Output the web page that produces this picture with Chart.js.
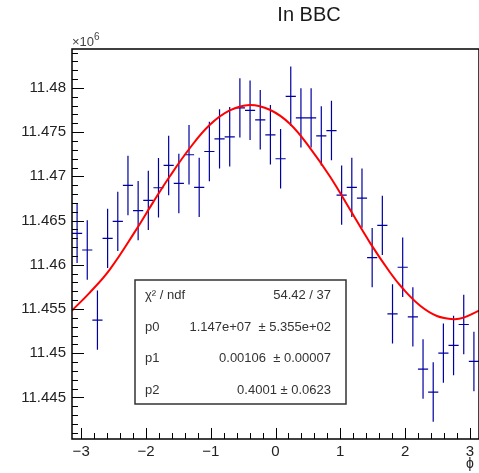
<!DOCTYPE html>
<html>
<head>
<meta charset="utf-8">
<title>In BBC</title>
<script src="https://cdn.jsdelivr.net/npm/chart.js@4/dist/chart.umd.min.js"></script>
<style>
    body { margin: 0; background: #fff; }
    #wrap { width: 479px; height: 473px; }
</style>
</head>
<body>
<div id="wrap"><canvas id="phiChart" width="479" height="473"></canvas></div>
<script>
// histogram binning in phi
const phiMin = -Math.PI;
const phiMax = Math.PI;
const nBins = 40;

// bin contents, in units of 10^6
const counts = [
    11.46356, 11.46167, 11.45374, 11.46299, 11.46491, 11.46897, 11.46612, 11.46728, 11.46871, 11.47123,
    11.46920, 11.47244, 11.46875, 11.47281, 11.47424, 11.47447, 11.47774, 11.47747, 11.47639, 11.47470,
    11.47199, 11.47905, 11.47661, 11.47661, 11.47458, 11.47518, 11.46788, 11.46875, 11.46754, 11.46081,
    11.46446, 11.45445, 11.45972, 11.45411, 11.44821, 11.44561, 11.45001, 11.45088, 11.45325, 11.44907
];
const countErr = 0.00336;

// fit curve
const fitPhi = [-3.1416, -2.875, -2.565, -2.152, -1.895, -1.636, -1.327, -1.017, -0.707, -0.398, -0.088,
    0.221, 0.531, 0.841, 1.150, 1.460, 1.769, 1.975, 2.234, 2.492, 2.749, 2.904, 3.1416];
const fitVal = [11.45483, 11.45680, 11.45940, 11.46395, 11.46700, 11.46995, 11.47315, 11.47580, 11.47745, 11.47808, 11.47753,
    11.47595, 11.47323, 11.46998, 11.46625, 11.46248, 11.45913, 11.45723, 11.45537, 11.45421, 11.45385, 11.45402, 11.45480];

const xTicks = [-3, -2, -1, 0, 1, 2, 3];
const yTicks = [11.445, 11.45, 11.455, 11.46, 11.465, 11.47, 11.475, 11.48];

const statRows = [
    ["\u03c7\u00b2 / ndf", "54.42 / 37"],
    ["p0", "1.147e+07  \u00b1 5.355e+02"],
    ["p1", "0.00106  \u00b1 0.00007"],
    ["p2", "0.4001 \u00b1 0.0623"]
];

const binWidth = (phiMax - phiMin) / nBins;
const phiCenters = counts.map((_, i) => phiMin + (i + 0.5) * binWidth);

const FONT = '"Liberation Sans", Arial, sans-serif';

// ROOT-like frame, inside ticks, error bars and stat box
const rootStyle = {
    id: "rootStyle",
    beforeDatasetsDraw(chart) {
        const { ctx, chartArea: a, scales: { x, y } } = chart;
        ctx.save();
        ctx.beginPath();
        ctx.rect(a.left, a.top, a.right - a.left, a.bottom - a.top);
        ctx.clip();
        ctx.strokeStyle = "#0000a0";
        ctx.lineWidth = 1.2;
        chart.data.datasets[0].data.forEach(p => {
            const px = x.getPixelForValue(p.x);
            const x0 = x.getPixelForValue(p.x - binWidth / 2);
            const x1 = x.getPixelForValue(p.x + binWidth / 2);
            const py = y.getPixelForValue(p.y);
            ctx.beginPath();
            ctx.moveTo(x0, py);
            ctx.lineTo(x1, py);
            ctx.moveTo(px, y.getPixelForValue(p.y + countErr));
            ctx.lineTo(px, y.getPixelForValue(p.y - countErr));
            ctx.stroke();
        });
        ctx.restore();
    },
    afterDatasetsDraw(chart) {
        const { ctx, chartArea: a, scales: { x, y } } = chart;
        ctx.save();
        ctx.strokeStyle = "#000";
        ctx.lineWidth = 1;
        // y ticks, every 0.001
        ctx.beginPath();
        for (let k = 11441; k <= 11484; k++) {
            const py = Math.round(y.getPixelForValue(k / 1000)) + 0.5;
            const len = k % 5 === 0 ? 12 : 6;
            ctx.moveTo(a.left, py);
            ctx.lineTo(a.left + len, py);
        }
        // x ticks, every 0.2
        for (let k = -15; k <= 15; k++) {
            const px = Math.round(x.getPixelForValue(k / 5)) + 0.5;
            const len = k % 5 === 0 ? 11 : 6;
            ctx.moveTo(px, a.bottom);
            ctx.lineTo(px, a.bottom - len);
        }
        ctx.stroke();
        ctx.lineWidth = 1.5;
        ctx.strokeRect(a.left, a.top, a.right - a.left, a.bottom - a.top);
        ctx.restore();
    },
    afterDraw(chart) {
        const { ctx } = chart;
        ctx.save();
        // title
        ctx.fillStyle = "#1a1a1a";
        ctx.font = "20px " + FONT;
        ctx.textAlign = "center";
        ctx.textBaseline = "middle";
        ctx.fillText("In BBC", 309, 15);

        // exponent of the y axis
        ctx.fillStyle = "#444";
        ctx.textAlign = "left";
        ctx.textBaseline = "alphabetic";
        ctx.font = "13px " + FONT;
        ctx.fillText("\u00d710", 72, 46);
        ctx.font = "10px " + FONT;
        ctx.fillText("6", 94, 40);

        // x axis title
        ctx.fillStyle = "#222";
        ctx.font = "14px " + FONT;
        ctx.textAlign = "center";
        ctx.textBaseline = "middle";
        ctx.fillText("\u03d5", 470, 464);

        // stat box
        ctx.fillStyle = "#fff";
        ctx.fillRect(135, 280, 211, 124);
        ctx.strokeStyle = "#333";
        ctx.lineWidth = 1.5;
        ctx.strokeRect(135, 280, 211, 124);
        ctx.fillStyle = "#333";
        ctx.font = "13px " + FONT;
        const rowY = [295, 327, 358, 390];
        statRows.forEach((row, i) => {
            ctx.textAlign = "left";
            ctx.fillText(row[0], 145, rowY[i]);
            ctx.textAlign = "right";
            ctx.fillText(row[1], 331, rowY[i]);
        });
        ctx.restore();
    }
};

const ctx = document.getElementById("phiChart").getContext("2d");

new Chart(ctx, {
    type: "scatter",
    data: {
        datasets: [{
            label: "In BBC",
            data: counts.map((c, i) => ({ x: phiCenters[i], y: c })),
            pointRadius: 0,
            showLine: false
        }, {
            label: "fit",
            data: fitPhi.map((p, i) => ({ x: p, y: fitVal[i] })),
            showLine: true,
            borderColor: "#ff0000",
            borderWidth: 2,
            pointRadius: 0,
            tension: 0.4,
            fill: false
        }]
    },
    options: {
        responsive: false,
        animation: false,
        layout: { padding: { top: 49, right: 0, bottom: 0, left: 0 } },
        plugins: {
            legend: { display: false },
            tooltip: { enabled: false },
            title: { display: false }
        },
        scales: {
            x: {
                type: "linear",
                min: phiMin,
                max: phiMax,
                grid: { display: false, drawTicks: false, tickLength: 0 },
                border: { display: false },
                afterBuildTicks: s => { s.ticks = xTicks.map(v => ({ value: v })); },
                afterFit: s => { s.height = 34; },
                ticks: {
                    autoSkip: false,
                    maxRotation: 0,
                    padding: 4,
                    color: "#222",
                    font: { family: FONT, size: 15 },
                    callback: v => v < 0 ? "\u2212" + Math.abs(v) : String(v)
                }
            },
            y: {
                type: "linear",
                min: 11.4403,
                max: 11.4844,
                grid: { display: false, drawTicks: false, tickLength: 0 },
                border: { display: false },
                afterBuildTicks: s => { s.ticks = yTicks.map(v => ({ value: v })); },
                afterFit: s => { s.width = 72; },
                ticks: {
                    autoSkip: false,
                    padding: 6,
                    color: "#222",
                    font: { family: FONT, size: 15 },
                    callback: v => String(+v.toFixed(3))
                }
            }
        }
    },
    plugins: [rootStyle]
});
</script>
</body>
</html>
